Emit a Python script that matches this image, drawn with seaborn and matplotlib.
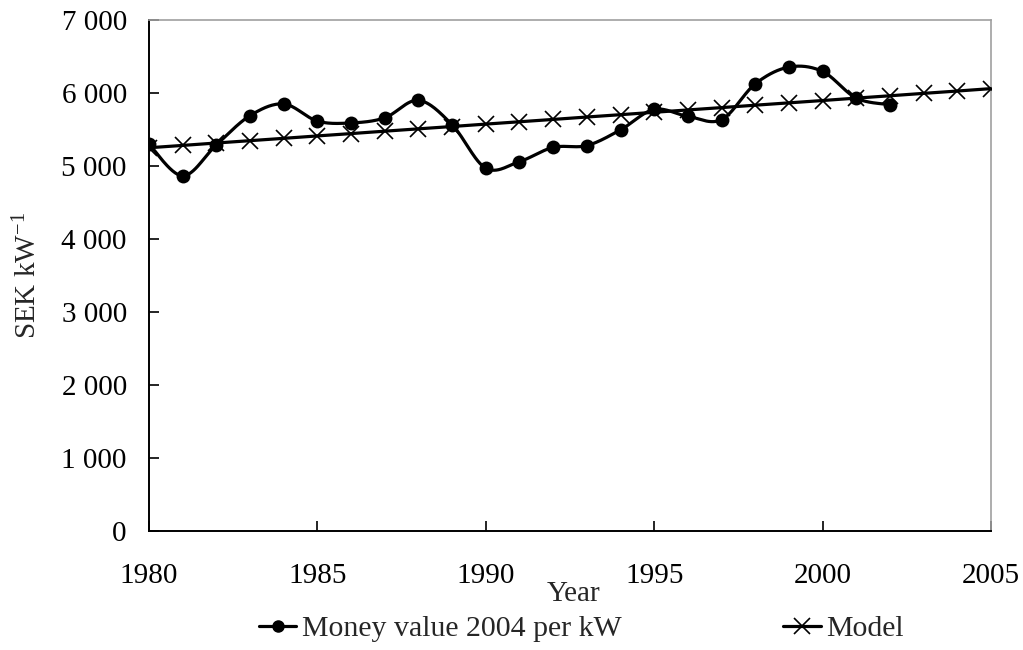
import numpy as np
import pandas as pd
import matplotlib
matplotlib.use("Agg")
import matplotlib.pyplot as plt
from matplotlib.ticker import FuncFormatter, MultipleLocator
import seaborn as sns

# Data
years = [1980, 1981, 1982, 1983, 1984, 1985, 1986, 1987, 1988, 1989, 1990, 1991,
         1992, 1993, 1994, 1995, 1996, 1997, 1998, 1999, 2000, 2001, 2002]
money_value = [5300, 4865, 5290, 5690, 5850, 5615, 5590, 5660, 5900, 5565, 4970, 5060,
               5255, 5280, 5495, 5775, 5680, 5635, 6125, 6355, 6295, 5930, 5840]

model_years = [1980, 1981, 1982, 1983, 1984, 1985, 1986, 1987, 1988, 1989, 1990, 1991, 1992,
               1993, 1994, 1995, 1996, 1997, 1998, 1999, 2000, 2001, 2002, 2003, 2004, 2005]
model_value = [5250, 5282, 5315, 5347, 5379, 5412, 5444, 5477, 5509, 5541, 5574, 5606, 5638,
               5671, 5703, 5736, 5768, 5800, 5833, 5865, 5897, 5930, 5962, 5995, 6027, 6060]

label_money = "Money value 2004 per kW"
label_model = "Model"


def smooth_curve(xs, ys, n=30):
    # Excel-like smoothed line: cubic Bezier through the points (Catmull-Rom tangents)
    p = np.column_stack([xs, ys]).astype(float)
    out = []
    for i in range(len(p) - 1):
        p0 = p[i - 1] if i > 0 else p[i]
        p3 = p[i + 2] if i + 2 < len(p) else p[i + 1]
        c1 = p[i] + (p[i + 1] - p0) / 6
        c2 = p[i + 1] - (p3 - p[i]) / 6
        t = np.linspace(0, 1, n)[:, None]
        seg = ((1 - t) ** 3) * p[i] + 3 * ((1 - t) ** 2) * t * c1 + 3 * (1 - t) * t ** 2 * c2 + t ** 3 * p[i + 1]
        out.append(seg if i == 0 else seg[1:])
    return np.vstack(out)


sns.set_theme(style="white")
plt.rcParams["font.family"] = ["Liberation Serif", "DejaVu Serif"]
plt.rcParams["mathtext.fontset"] = "custom"
plt.rcParams["mathtext.rm"] = "Liberation Serif"
plt.rcParams["mathtext.it"] = "Liberation Serif:italic"

fig = plt.figure(figsize=(10.23, 6.5), dpi=100)
ax = fig.add_axes([149 / 1023, 1 - 531 / 650, (991 - 149) / 1023, (531 - 20) / 650])

curve = smooth_curve(years, money_value)
df_curve = pd.DataFrame({"Year": curve[:, 0], "Value": curve[:, 1]})
df_money = pd.DataFrame({"Year": years, "Value": money_value})
df_model = pd.DataFrame({"Year": model_years, "Value": model_value})

sns.lineplot(data=df_curve, x="Year", y="Value", sort=False, color="black", linewidth=2.3, ax=ax)
sns.scatterplot(data=df_money, x="Year", y="Value", color="black", s=100, edgecolor="black",
                linewidth=0, ax=ax, zorder=4)
sns.lineplot(data=df_model, x="Year", y="Value", color="black", linewidth=2.3, marker="x",
             markersize=11, markeredgewidth=1.2, markeredgecolor="black", ax=ax, zorder=3)

ax.set_xlim(1980, 2005)
ax.set_ylim(0, 7000)
ax.xaxis.set_major_locator(MultipleLocator(5))
ax.yaxis.set_major_locator(MultipleLocator(1000))
ax.yaxis.set_major_formatter(FuncFormatter(lambda v, p: f"{int(v):,}".replace(",", " ")))

ax.tick_params(axis="both", direction="in", length=7, width=1.2, colors="black", labelsize=21)
ax.tick_params(axis="x", pad=23, bottom=True)
ax.tick_params(axis="y", pad=16, left=True)

for side in ["left", "bottom"]:
    ax.spines[side].set_color("black")
    ax.spines[side].set_linewidth(1.4)
for side in ["top", "right"]:
    ax.spines[side].set_color("#a0a0a0")
    ax.spines[side].set_linewidth(1.2)

ax.set_xlabel("Year", fontsize=21)
ax.xaxis.set_label_coords(0.504, -0.098)
ax.set_ylabel("SEK kW$^{-1}$", fontsize=21)
ax.yaxis.set_label_coords(-0.127, 0.5)

h1 = plt.Line2D([], [], color="black", linewidth=2.3, marker="o", markersize=8)
h2 = plt.Line2D([], [], color="black", linewidth=2.3, marker="x", markersize=11, markeredgewidth=1.2)
fig.legend([h1, h2], [label_money, label_model], loc="center left",
           bbox_to_anchor=(244 / 1023, 1 - 629 / 650), ncol=2, frameon=False,
           fontsize=21.5, handlelength=1.25, handletextpad=0.2, columnspacing=5.4, borderpad=0)

fig.savefig("out.png", dpi=100)
